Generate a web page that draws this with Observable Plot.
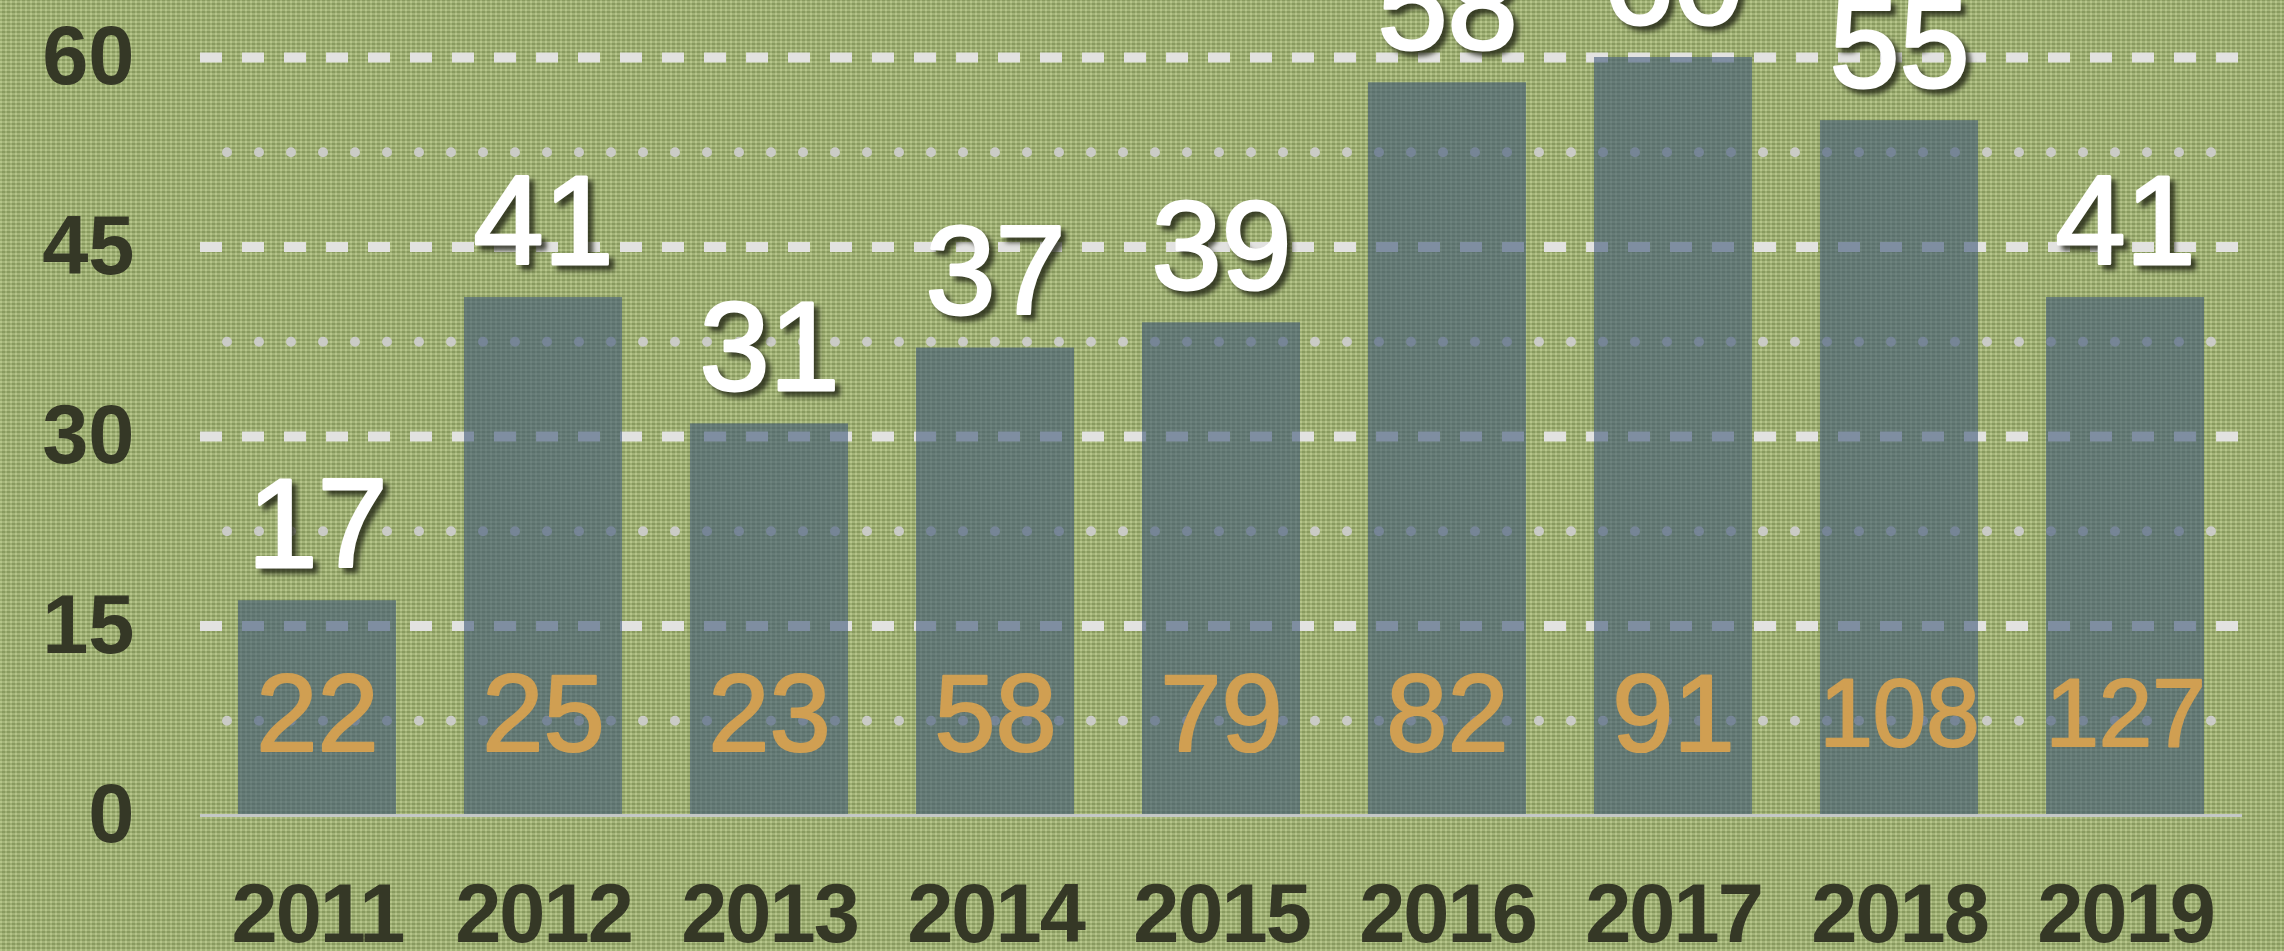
<!DOCTYPE html>
<html>
<head>
<meta charset="utf-8">
<script src="https://cdn.jsdelivr.net/npm/d3@7"></script>
<script src="https://cdn.jsdelivr.net/npm/@observablehq/plot@0.6"></script>
<style>
  html, body { margin: 0; padding: 0; }
  body {
    width: 2284px; height: 951px; overflow: hidden;
    background-color: #a0b473;
    background-image:
      repeating-linear-gradient(0deg, rgba(255,255,215,0.15) 0 2px, rgba(50,60,20,0.10) 2px 4px),
      repeating-linear-gradient(90deg, rgba(255,255,215,0.10) 0 2px, rgba(50,60,20,0.12) 2px 5px);
  }
  #chart svg { display: block; }
  #chart svg g[aria-label="x-axis tick label"] text { letter-spacing: -2px; }
</style>
</head>
<body>
<div id="chart"></div>
<script>
const years = ["2011", "2012", "2013", "2014", "2015", "2016", "2017", "2018", "2019"];
const values = [17, 41, 31, 37, 39, 58, 60, 55, 41];
const counts = [22, 25, 23, 58, 79, 82, 91, 108, 127];
const yTicks = [0, 15, 30, 45, 60];
const minorTicks = [7.5, 22.5, 37.5, 52.5];
const majorGrid = [15, 30, 45, 60];

const data = years.map((year, i) => ({year, value: values[i], count: counts[i]}));

const shadowColor = "#1d2012";

const chart = Plot.plot({
  width: 2284,
  height: 951,
  marginLeft: 200,
  marginRight: 42,
  marginTop: 57,
  marginBottom: 136,
  style: {
    background: "transparent",
    fontFamily: "'Liberation Sans', Arial, Helvetica, sans-serif",
    color: "#353826",
    overflow: "hidden"
  },
  x: {domain: years, paddingInner: 0.3, paddingOuter: 0.15, label: null},
  y: {domain: [0, 60], label: null},
  marks: [
    Plot.ruleY(majorGrid, {stroke: "#e2e2e0", strokeWidth: 10, strokeDasharray: "22 20"}),
    Plot.ruleY(minorTicks, {stroke: "#cacbc6", strokeWidth: 10, strokeLinecap: "round", strokeDasharray: "0 32", strokeDashoffset: 5}),
    Plot.barY(data, {x: "year", y: "value", fill: "#3e5676", fillOpacity: 0.6}),
    Plot.ruleY([0], {stroke: "#c4c8c6", strokeWidth: 3}),
    Plot.text(data, {
      x: "year", text: d => String(d.count), frameAnchor: "bottom", dy: -100, lineAnchor: "middle",
      fill: "#d09f52", stroke: "#d09f52", strokeWidth: 2.2,
      fontSize: d => String(d.count).length > 2 ? 96 : 110
    }),
    Plot.text(data, {
      x: "year", y: "value", text: d => String(d.value), dy: -29, dx: 5, lineAnchor: "bottom",
      fill: shadowColor, fillOpacity: 0.75, stroke: shadowColor, strokeOpacity: 0.75, strokeWidth: 3, fontSize: 126
    }),
    Plot.text(data, {
      x: "year", y: "value", text: d => String(d.value), dy: -34, lineAnchor: "bottom",
      fill: "white", stroke: "white", strokeWidth: 3, fontSize: 126
    }),
    Plot.axisX({tickSize: 0, tickPadding: 68, fontSize: 83, fontWeight: "bold", label: null}),
    Plot.axisY({ticks: yTicks, tickSize: 0, tickPadding: 66, fontSize: 83, fontWeight: "bold", label: null})
  ]
});

d3.select(chart).selectAll(`g[fill="${shadowColor}"]`).style("filter", "blur(2.5px)");
document.getElementById("chart").appendChild(chart);
</script>
</body>
</html>
